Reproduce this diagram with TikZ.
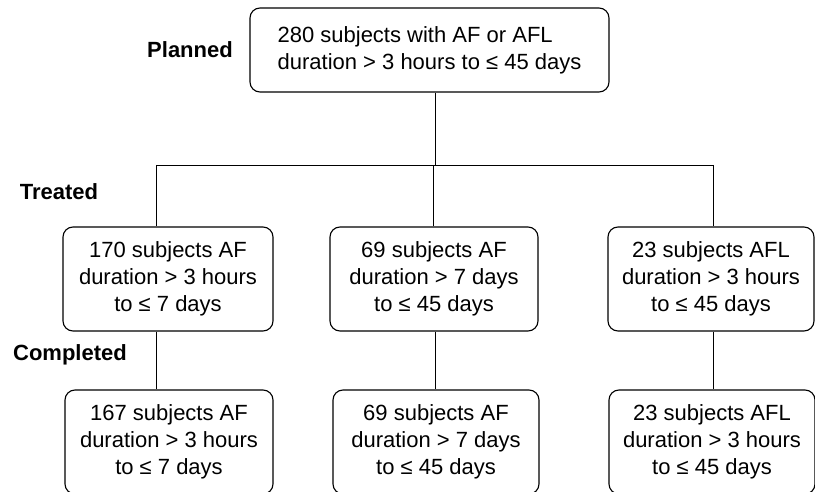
\documentclass[tikz,border=0pt]{standalone}
\usepackage{fontspec}
\setmainfont{Liberation Sans}
\usepackage{tikz}

\tikzset{
  box/.style={draw, rounded corners=10pt, line width=1.1pt, align=center,
    minimum height=104pt, inner sep=0pt, font=\fontsize{22}{27}\selectfont},
  stage/.style={font=\fontsize{22}{27}\selectfont\bfseries},
  link/.style={line width=0.9pt}
}

\begin{document}
\begin{tikzpicture}[x=1pt,y=-1pt]
\useasboundingbox (0,0) rectangle (815,492);
\node[box, minimum width=359pt, minimum height=84pt, align=left] (plan) at (429.5,50)
  {280 subjects with AF or AFL\\duration > 3 hours to ≤ 45 days};
\node[stage] (lplan) at (190,50) {Planned};
\node[stage] (ltreat) at (59,192) {Treated};
\node[stage] (lcomp) at (70,355) {Completed};
\node[box, minimum width=210pt] (t1) at (168,279) {170 subjects AF\\duration > 3 hours\\to ≤ 7 days};
\node[box, minimum width=208pt] (t2) at (434,279) {69 subjects AF\\duration > 7 days\\to ≤ 45 days};
\node[box, minimum width=206pt] (t3) at (711,279) {23 subjects AFL\\duration > 3 hours\\to ≤ 45 days};
\node[box, minimum width=208pt] (c1) at (169,442) {167 subjects AF\\duration > 3 hours\\to ≤ 7 days};
\node[box, minimum width=206pt] (c2) at (436,442) {69 subjects AF\\duration > 7 days\\to ≤ 45 days};
\node[box, minimum width=206pt] (c3) at (712,442) {23 subjects AFL\\duration > 3 hours\\to ≤ 45 days};
\coordinate (jl) at (156,165);
\coordinate (jm) at (435,165);
\coordinate (jr) at (713,165);
\draw[link] (plan.south -| jm) -- (jm);
\draw[link] (jl) -- (jr);
\draw[link] (jl) -- (jl |- t1.north);
\draw[link] (t2.north -| 433,0) -- (433,165);
\draw[link] (jr) -- (jr |- t3.north);
\draw[link] (t1.south -| jl) -- (c1.north -| jl);
\draw[link] (t2.south -| jm) -- (c2.north -| jm);
\draw[link] (t3.south -| jr) -- (c3.north -| jr);
\end{tikzpicture}
\end{document}
